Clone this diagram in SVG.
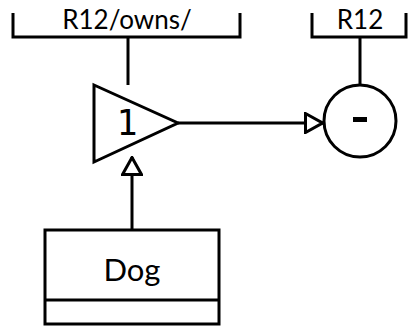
<svg xmlns="http://www.w3.org/2000/svg" width="408" height="326" viewBox="0 0 408 326">
  <defs>
    <style>
      .ln { fill: none; stroke: #000; stroke-width: 3; }
      .shape { fill: #fff; stroke: #000; stroke-width: 3; }
      .lbl { font-family: "Lato", "Liberation Sans", sans-serif; fill: #000; text-anchor: middle; }
    </style>
    <marker id="hollow" viewBox="0 0 20 22" refX="19" refY="11" markerWidth="20" markerHeight="22" markerUnits="userSpaceOnUse" orient="auto">
      <path d="M1.5,1.5 L18.5,11 L1.5,20.5 Z" fill="#fff" stroke="#000" stroke-width="3"/>
    </marker>
  </defs>

  <g id="connectors">
    <line class="ln" x1="128" y1="37" x2="128" y2="85"/>
    <line class="ln" x1="360" y1="37" x2="360" y2="85"/>
    <line class="ln" x1="178" y1="123" x2="323" y2="123" marker-end="url(#hollow)"/>
    <line class="ln" x1="132" y1="230" x2="132" y2="157" marker-end="url(#hollow)"/>
  </g>

  <g id="bracket-r12-owns">
    <path class="ln" d="M13,13 V37 H240 V13"/>
    <text class="lbl" x="127" y="29" font-size="26">R12/owns/</text>
  </g>

  <g id="bracket-r12">
    <path class="ln" d="M312,13 V37 H406 V13"/>
    <text class="lbl" x="360" y="29" font-size="26">R12</text>
  </g>

  <g id="gate-1">
    <path class="shape" d="M94,85 L178,123 L94,162 Z"/>
    <text x="127" y="135" font-size="35" text-anchor="middle" font-family="DejaVu Sans Mono, Liberation Mono, monospace">1</text>
  </g>

  <g id="op-minus">
    <circle class="shape" cx="360" cy="121" r="36"/>
    <rect x="353" y="117" width="14" height="5" fill="#000"/>
  </g>

  <g id="class-dog">
    <rect class="shape" x="45" y="230" width="174" height="94"/>
    <line class="ln" x1="45" y1="300" x2="219" y2="300" stroke-width="2"/>
    <text class="lbl" x="132" y="281" font-size="31">Dog</text>
  </g>
</svg>
